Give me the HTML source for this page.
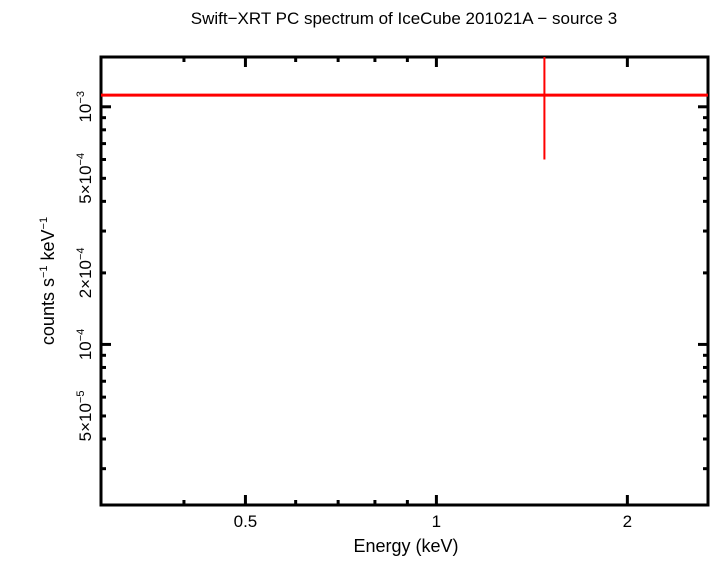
<!DOCTYPE html>
<html><head><meta charset="utf-8"><style>
body{margin:0;background:#fff}
svg text{font-family:"Liberation Sans",sans-serif}
</style></head><body>
<svg width="710" height="556" viewBox="0 0 710 556">
<text x="404" y="24" font-size="17" text-anchor="middle">Swift−XRT PC spectrum of IceCube 201021A − source 3</text>
<g id="axes"></g>
<g id="data"></g>
<text x="406" y="552" font-size="18" text-anchor="middle">Energy (keV)</text>
<text transform="translate(54,281) rotate(-90)" font-size="18" text-anchor="middle">counts s<tspan font-size="11" dy="-7">−1</tspan><tspan dy="7"> keV</tspan><tspan font-size="11" dy="-7">−1</tspan></text>
</svg>
<script>
const xMajor=[0.5,1,2];
const xMajorLabels=["0.5","1","2"];
const xMinor=[0.4,0.6,0.7,0.8,0.9];
const yMajor=[1e-4,1e-3];
const yMinor=[3e-5,4e-5,5e-5,6e-5,7e-5,8e-5,9e-5,2e-4,3e-4,4e-4,5e-4,6e-4,7e-4,8e-4,9e-4];
const yLabelVals=[5e-5,1e-4,2e-4,5e-4,1e-3];
const yLabels=[["5×10","−5"],["10","−4"],["2×10","−4"],["5×10","−4"],["10","−3"]];
const binLo=[0.2];
const binHi=[10];
const binE=[1.48];
const binRate=[1.12e-3];
const binErrLo=[0.6e-3];
const binErrHi=[2e-3];

const L=101,R=708,T=57,B=505;
const xmin=0.296,xmax=2.68,ymin=2.11e-5,ymax=1.62e-3;
const xs=v=>L+(Math.log(v)-Math.log(xmin))/(Math.log(xmax)-Math.log(xmin))*(R-L);
const ys=v=>B-(Math.log(v)-Math.log(ymin))/(Math.log(ymax)-Math.log(ymin))*(B-T);
const NS="http://www.w3.org/2000/svg";
const ax=document.getElementById('axes'), dg=document.getElementById('data');
function mk(tag,attrs,parent){const e=document.createElementNS(NS,tag);for(const k in attrs)e.setAttribute(k,attrs[k]);parent.appendChild(e);return e;}
const fr=mk('rect',{x:L,y:T,width:R-L,height:B-T,fill:'none',stroke:'#000','stroke-width':3},ax);


function tick(x1,y1,x2,y2,nm){const t=mk('line',{x1,y1,x2,y2,stroke:'#000','stroke-width':3},ax);

}
xMajor.forEach(v=>{const x=xs(v);tick(x,B,x,B-10,'x-major-tick');tick(x,T,x,T+10,'x-major-tick-top');});
xMinor.forEach(v=>{const x=xs(v);tick(x,B,x,B-5,'x-minor-tick');tick(x,T,x,T+5,'x-minor-tick-top');});
yMajor.forEach(v=>{const y=ys(v);tick(L,y,L+10,y,'y-major-tick');tick(R,y,R-10,y,'y-major-tick-right');});
yMinor.forEach(v=>{const y=ys(v);tick(L,y,L+5,y,'y-minor-tick');tick(R,y,R-5,y,'y-minor-tick-right');});
xMajor.forEach((v,i)=>{const t=mk('text',{x:xs(v),y:527,'font-size':17,'text-anchor':'middle'},ax);t.textContent=xMajorLabels[i];

});
yLabelVals.forEach((v,i)=>{const t=mk('text',{transform:`translate(91,${ys(v)}) rotate(-90)`,'font-size':17,'text-anchor':'middle'},ax);


const a=mk('tspan',{},t);a.textContent=yLabels[i][0];const b=mk('tspan',{'font-size':11,dy:-7},t);b.textContent=yLabels[i][1];});
mk('clipPath',{id:'clip'},dg).appendChild(Object.assign(document.createElementNS(NS,'rect'),{}));
const cr=document.querySelector('#clip rect');cr.setAttribute('x',L);cr.setAttribute('y',T);cr.setAttribute('width',R-L);cr.setAttribute('height',B-T);
const g=mk('g',{'clip-path':'url(#clip)'},dg);
binE.forEach((e,i)=>{
const h=mk('line',{x1:xs(binLo[i]),x2:xs(binHi[i]),y1:ys(binRate[i]),y2:ys(binRate[i]),stroke:'#f00','stroke-width':3},g);


const v=mk('line',{x1:xs(e),x2:xs(e),y1:ys(binErrLo[i]),y2:ys(binErrHi[i]),stroke:'#f00','stroke-width':2},g);


});
</script>
</body></html>
